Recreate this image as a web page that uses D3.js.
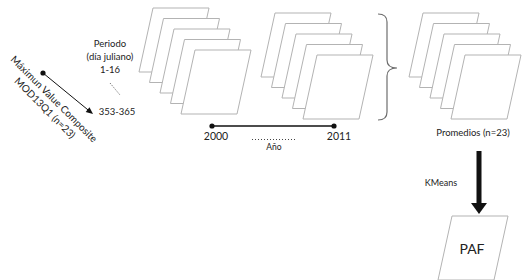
<!DOCTYPE html>
<html>
<head>
<meta charset="utf-8">
<script src="https://cdn.jsdelivr.net/npm/d3@7"></script>
<style>
  body { margin: 0; background: #fff; }
  svg text { font-family: Lato, "Open Sans", sans-serif; fill: #222; }
</style>
</head>
<body>
<div id="chart"></div>
<script>
// data
const groups = ["periodos", "anios", "promedios"];
const layers = [1, 2, 3, 4, 5];
const periodLabels = ["Periodo", "(día juliano)", "1-16"];
const periodEnd = "353-365";
const years = [2000, 2011];
const sourceLabels = ["Máximun Value Composite", "MOD13Q1 (n=23)"];
const meanLabel = "Promedios (n=23)";
const methodLabel = "KMeans";
const resultLabel = "PAF";

const W = 524, H = 280;
const sheetW = 56, sheetH = 64, skew = 14;

const svg = d3.select("#chart").append("svg")
  .attr("width", W).attr("height", H);

// where each stack starts (top-left corner of the back sheet)
const gx = d3.scaleOrdinal().domain(groups).range([153, 275, 423]);
const gy = d3.scaleOrdinal().domain(groups).range([8, 13, 13]);
const layerOff = d3.scalePoint().domain(layers).range([0, 42]);

function sheet(x, y) {
  return `M${x},${y} L${x + sheetW},${y} L${x + sheetW - skew},${y + sheetH} L${x - skew},${y + sheetH} Z`;
}

groups.forEach(g => {
  svg.append("g").selectAll("path")
    .data(layers)
    .join("path")
    .attr("d", d => sheet(gx(g) + layerOff(d), gy(g) + layerOff(d)))
    .attr("fill", "#fff")
    .attr("stroke", "#b3b3b3")
    .attr("stroke-width", 1);
});

// brace joining years into averages
svg.append("path")
  .attr("d", "M378,14 Q387,14 387,22 L387,60 Q387,68 397,68 Q387,68 387,76 L387,112 Q387,120 378,120")
  .attr("fill", "none")
  .attr("stroke", "#6e6e6e")
  .attr("stroke-width", 1.2);

// periodo labels
svg.append("g").selectAll("text")
  .data(periodLabels)
  .join("text")
  .attr("x", 110)
  .attr("y", (d, i) => 47 + i * 13)
  .attr("text-anchor", "middle")
  .attr("font-size", 9.5)
  .text(d => d);

svg.append("line")
  .attr("x1", 110).attr("y1", 83).attr("x2", 120).attr("y2", 95)
  .attr("stroke", "#555").attr("stroke-width", 1)
  .attr("stroke-dasharray", "1,1.5");

svg.append("text")
  .attr("x", 117).attr("y", 115)
  .attr("text-anchor", "middle")
  .attr("font-size", 9.5)
  .text(periodEnd);

// source arrow
const ax0 = 43, ay0 = 73, ax1 = 93, ay1 = 114;
const ang = Math.atan2(ay1 - ay0, ax1 - ax0);
svg.append("line")
  .attr("x1", ax0).attr("y1", ay0)
  .attr("x2", ax1 - 5 * Math.cos(ang)).attr("y2", ay1 - 5 * Math.sin(ang))
  .attr("stroke", "#111").attr("stroke-width", 1);
svg.append("circle").attr("cx", ax0).attr("cy", ay0).attr("r", 2.6).attr("fill", "#111");
svg.append("path")
  .attr("transform", `translate(${ax1},${ay1}) rotate(${ang * 180 / Math.PI})`)
  .attr("d", "M0,0 L-7,-3 L-7,3 Z")
  .attr("fill", "#111");

// rotated source text
svg.append("g").selectAll("text")
  .data(sourceLabels)
  .join("text")
  .attr("transform", (d, i) => `translate(${54 - i * 9},${99 + i * 9}) rotate(45)`)
  .attr("text-anchor", "middle")
  .attr("dy", "0.35em")
  .attr("font-size", 10)
  .text(d => d);

// year timeline
const x = d3.scaleLinear().domain(years).range([212, 334]);
svg.append("line")
  .attr("x1", x(years[0])).attr("x2", x(years[1]))
  .attr("y1", 126).attr("y2", 126)
  .attr("stroke", "#111").attr("stroke-width", 1.5);
svg.append("g").selectAll("circle")
  .data(years)
  .join("circle")
  .attr("cx", d => x(d)).attr("cy", 126).attr("r", 2.6).attr("fill", "#111");
svg.append("g").selectAll("text")
  .data(years)
  .join("text")
  .attr("x", (d, i) => x(d) + (i === 0 ? 4 : 5))
  .attr("y", 140)
  .attr("text-anchor", "middle")
  .attr("font-size", 10.5)
  .text(d => d);
svg.append("line")
  .attr("x1", 252).attr("x2", 297).attr("y1", 139.5).attr("y2", 139.5)
  .attr("stroke", "#444").attr("stroke-width", 1)
  .attr("stroke-dasharray", "1,2");
svg.append("text")
  .attr("x", 274).attr("y", 150)
  .attr("text-anchor", "middle")
  .attr("font-size", 8.5)
  .text("Año");

// promedios
svg.append("text")
  .attr("x", 473).attr("y", 136)
  .attr("text-anchor", "middle")
  .attr("font-size", 9.5)
  .text(meanLabel);

// thick arrow down to PAF
svg.append("rect")
  .attr("x", 476.5).attr("y", 151).attr("width", 5).attr("height", 53)
  .attr("fill", "#111");
svg.append("path")
  .attr("d", "M471,203 L487,203 L479,214 Z")
  .attr("fill", "#111");
svg.append("text")
  .attr("x", 441).attr("y", 186)
  .attr("text-anchor", "middle")
  .attr("font-size", 9)
  .text(methodLabel);

// result sheet
svg.append("path")
  .attr("d", sheet(452, 216))
  .attr("fill", "#fff")
  .attr("stroke", "#b3b3b3")
  .attr("stroke-width", 1);
svg.append("text")
  .attr("x", 472).attr("y", 254)
  .attr("text-anchor", "middle")
  .attr("font-size", 14)
  .text(resultLabel);
</script>
</body>
</html>
